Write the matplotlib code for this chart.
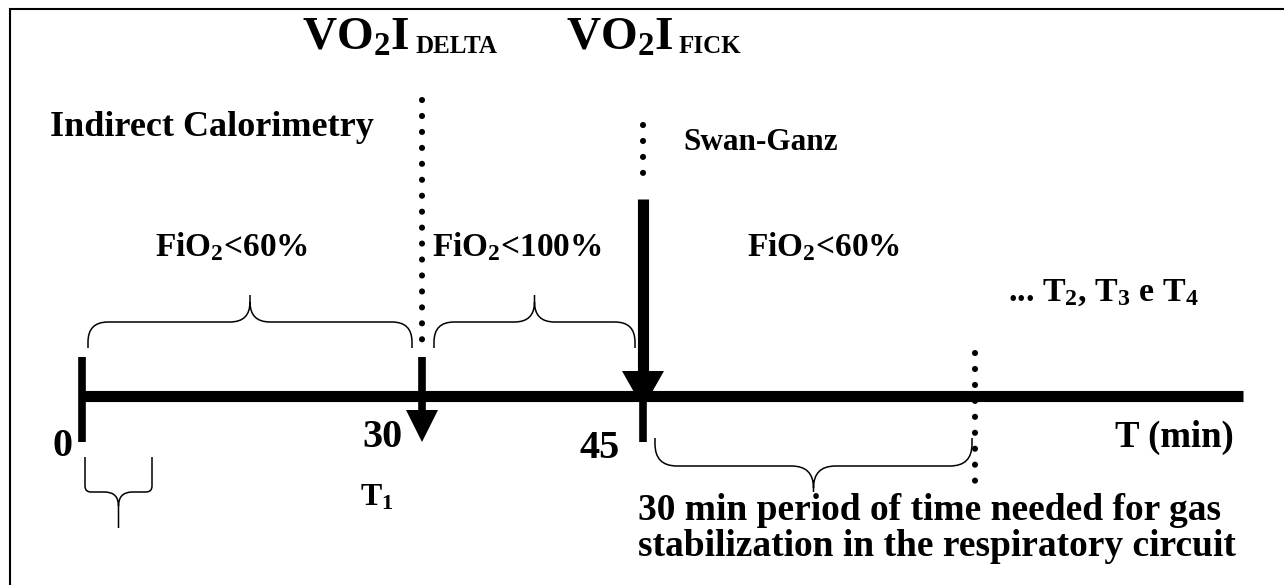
import numpy as np
import matplotlib.pyplot as plt
from matplotlib.path import Path
from matplotlib.patches import PathPatch

plt.rcParams['font.family'] = 'Liberation Serif'
plt.rcParams['font.weight'] = 'bold'
plt.rcParams['mathtext.fontset'] = 'custom'
plt.rcParams['mathtext.rm'] = 'Liberation Serif:bold'
plt.rcParams['mathtext.it'] = 'Liberation Serif:bold'
plt.rcParams['mathtext.bf'] = 'Liberation Serif:bold'

# timeline (image px along the axis)
time_labels = ["0", "30", "45"]
time_x = [82, 422, 643]
end_x = 1243
stab_x = 975

# periods with braces above the axis
period_labels = ["FiO$_2$<60%", "FiO$_2$<100%", "FiO$_2$<60%"]
period_label_x = [155, 432, 747]

measure_labels = ["DELTA", "FICK"]
measure_x = [302, 566]
measure_sub_dx = [114, 113]

fig = plt.figure(figsize=(12.84, 5.85), dpi=100)
ax = fig.add_axes([0, 0, 1, 1])
ax.set_xlim(0, 1284)
ax.set_ylim(585, 0)
ax.axis('off')

# frame (only left and top visible in the crop)
ax.plot([10, 10, 1284], [585, 9, 9], color='k', lw=1.5, solid_joinstyle='miter')


def brace(x0, x1, y_end, y_mid, y_tip, r=20, r2=20, lw=1.1):
    xc = (x0 + x1) / 2
    s = 1 if y_end > y_mid else -1   # direction from mid line toward the ends
    t = 1 if y_tip > y_mid else -1
    verts = [(x0, y_end), (x0, y_mid + s * r), (x0, y_mid), (x0 + r, y_mid),
             (xc - r2, y_mid), (xc, y_mid), (xc, y_mid + t * r2), (xc, y_tip),
             (xc, y_mid + t * r2), (xc, y_mid), (xc + r2, y_mid),
             (x1 - r, y_mid), (x1, y_mid), (x1, y_mid + s * r), (x1, y_end)]
    codes = [Path.MOVETO, Path.LINETO, Path.CURVE3, Path.CURVE3,
             Path.LINETO, Path.CURVE3, Path.CURVE3, Path.LINETO,
             Path.MOVETO, Path.CURVE3, Path.CURVE3,
             Path.LINETO, Path.CURVE3, Path.CURVE3, Path.LINETO]
    ax.add_patch(PathPatch(Path(verts, codes), fill=False, lw=lw, color='k'))


def dotted(x, y0, y1):
    ax.plot([x, x], [y0, y1], color='k', lw=4.4, ls=(0, (0.01, 2.6)),
            dash_capstyle='round')


# main axis
ax.plot([time_x[0], end_x], [396, 396], color='k', lw=8, solid_capstyle='butt')

# 0 tick
ax.plot([time_x[0]] * 2, [357, 442], color='k', lw=5.5, solid_capstyle='butt')

# 30: dotted + arrow down
dotted(time_x[1], 100, 343)
ax.plot([time_x[1]] * 2, [357, 412], color='k', lw=5.5, solid_capstyle='butt')
ax.fill([time_x[1] - 16, time_x[1] + 16, time_x[1]], [410, 410, 442], color='k', lw=0)

# 45: dotted + thick arrow down + stem
dotted(time_x[2], 125, 187)
ax.plot([time_x[2]] * 2, [199, 376], color='k', lw=8, solid_capstyle='butt')
ax.fill([time_x[2] - 21, time_x[2] + 21, time_x[2]], [371, 371, 408], color='k', lw=0)
ax.plot([time_x[2]] * 2, [396, 442], color='k', lw=5.5, solid_capstyle='butt')

# end of stabilization period
dotted(stab_x, 353, 492)

# braces
brace(88, 412, 348, 322, 295)
brace(434, 635, 348, 322, 295)
brace(655, 972, 438, 466, 492, r=22, r2=22)
brace(85, 152, 457, 492, 528, r=6, r2=14)

# time labels
ax.text(62, 456, time_labels[0], fontsize=29, ha='center', va='baseline')
ax.text(382, 447, time_labels[1], fontsize=29, ha='center', va='baseline')
ax.text(600, 458, time_labels[2], fontsize=29, ha='center', va='baseline')

# measurement labels
for lab, x, dx in zip(measure_labels, measure_x, measure_sub_dx):
    ax.text(x, 50, "VO$_2$I", fontsize=34, ha='left', va='baseline')
    ax.text(x + dx, 53, lab, fontsize=18, ha='left', va='baseline')

ax.text(50, 136, "Indirect Calorimetry", fontsize=26, ha='left', va='baseline')
ax.text(683, 150, "Swan-Ganz", fontsize=22.5, ha='left', va='baseline')

for lab, x in zip(period_labels, period_label_x):
    ax.text(x, 256, lab, fontsize=24, ha='left', va='baseline')

ax.text(1008, 301, "... T$_2$, T$_3$ e T$_4$", fontsize=24.5, ha='left', va='baseline')
ax.text(1115, 447, "T (min)", fontsize=26.5, ha='left', va='baseline')
ax.text(360, 506, "T$_1$", fontsize=23, ha='left', va='baseline')

ax.text(638, 520, "30 min period of time needed for gas", fontsize=27,
        ha='left', va='baseline')
ax.text(638, 556, "stabilization in the respiratory circuit", fontsize=27,
        ha='left', va='baseline')

fig.savefig('out.png', dpi=100)
